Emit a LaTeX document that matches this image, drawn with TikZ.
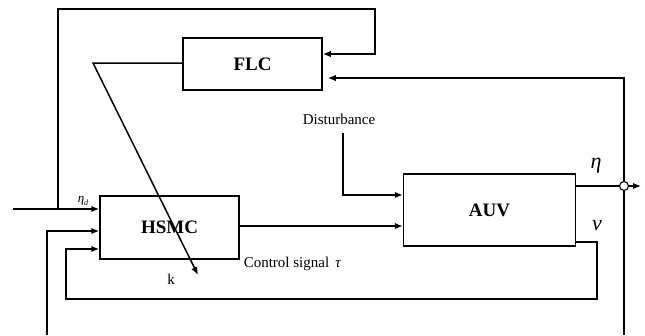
\documentclass[tikz,border=0pt]{standalone}
\usepackage{fontspec}
\setmainfont{Liberation Serif}
\usetikzlibrary{arrows.meta}
\begin{document}
\begin{tikzpicture}[x=1pt,y=-1pt,
  line width=1.5pt,
  arr/.style={-{Latex[length=8pt,width=6.5pt]}},
  blk/.style={draw,line width=1.5pt,inner sep=0pt,font=\fontsize{19}{21}\selectfont\bfseries},
  lbl/.style={inner sep=0pt,font=\fontsize{15}{17}\selectfont}]
\useasboundingbox (0,0) rectangle (645,335);
% blocks
\node[blk,minimum width=139pt,minimum height=52pt] (FLC) at (252.5,64) {FLC};
\node[blk,minimum width=139pt,minimum height=63pt] (HSMC) at (169.5,227.5) {HSMC};
\node[blk,minimum width=172pt,minimum height=72pt] (AUV) at (489.5,210) {AUV};
% helper coordinates
\coordinate (in) at (13,209);
\coordinate (j) at (58,209);
\coordinate (t) at (375,9);
\coordinate (y54) at (0,54);
\coordinate (y63) at (0,63);
\coordinate (k1) at (93,63);
\coordinate (k2) at (198,275);
\coordinate (r1) at (624,335);
\coordinate (r2) at (624,78);
\coordinate (y78) at (0,78);
\coordinate (y186) at (0,186);
\coordinate (y195) at (0,195);
\coordinate (y226) at (0,226);
\coordinate (y231) at (0,231);
\coordinate (y242) at (0,242);
\coordinate (y249) at (0,249);
\coordinate (b1) at (47,335);
\coordinate (b2) at (47,231);
\coordinate (n1) at (597,242);
\coordinate (n2) at (597,299);
\coordinate (n3) at (66,299);
\coordinate (n4) at (66,249);
\coordinate (d1) at (343,133);
\coordinate (d2) at (343,195);
\coordinate (o1) at (641,186);
% input
\draw[arr] (in) -- (HSMC.west |- in);
\node[inner sep=0pt,font=\fontsize{13}{15}\selectfont] (etad) at (83,201) {\textit{η}\raisebox{-2.5pt}{\fontsize{8}{9}\selectfont\textit{d}}};
% top loop to FLC
\draw[arr] (j) |- (t) |- (FLC.east |- y54);
% FLC output -> k
\draw[arr] (FLC.west |- y63) -- (k1) -- (k2);
\node[lbl] (k) at (171,279) {k};
% right vertical feedback to FLC
\draw[arr] (r1) -- (r2) -- ([xshift=5pt]FLC.east |- y78);
% second input to HSMC
\draw[arr] (b1) -- (b2) -- (HSMC.west |- y231);
% nu loop
\draw[arr] (AUV.east |- y242) -- (n1) -- (n2) -- (n3) -- (n4) -- (HSMC.west |- y249);
% HSMC -> AUV
\draw[arr] (HSMC.east |- y226) -- (AUV.west |- y226);
\node[lbl,anchor=base west] (cs) at (243,267) {Control signal \,\textit{τ}};
% disturbance
\node[lbl] (dist) at (339,119) {Disturbance};
\draw[arr] (d1) -- (d2) -- (AUV.west |- y195);
% output eta
\node[draw,circle,fill=white,line width=1.1pt,minimum size=9pt,inner sep=0pt] (c) at (624,186) {};
\draw (AUV.east |- y186) -- (c.west);
\draw[arr] (c.east) -- (o1);
\node[inner sep=0pt,font=\fontsize{22}{24}\selectfont] (eta) at (596,166) {\textit{η}};
\node[inner sep=0pt,font=\fontsize{22}{24}\selectfont] (nu) at (597,226) {\textit{ν}};
\end{tikzpicture}
\end{document}
